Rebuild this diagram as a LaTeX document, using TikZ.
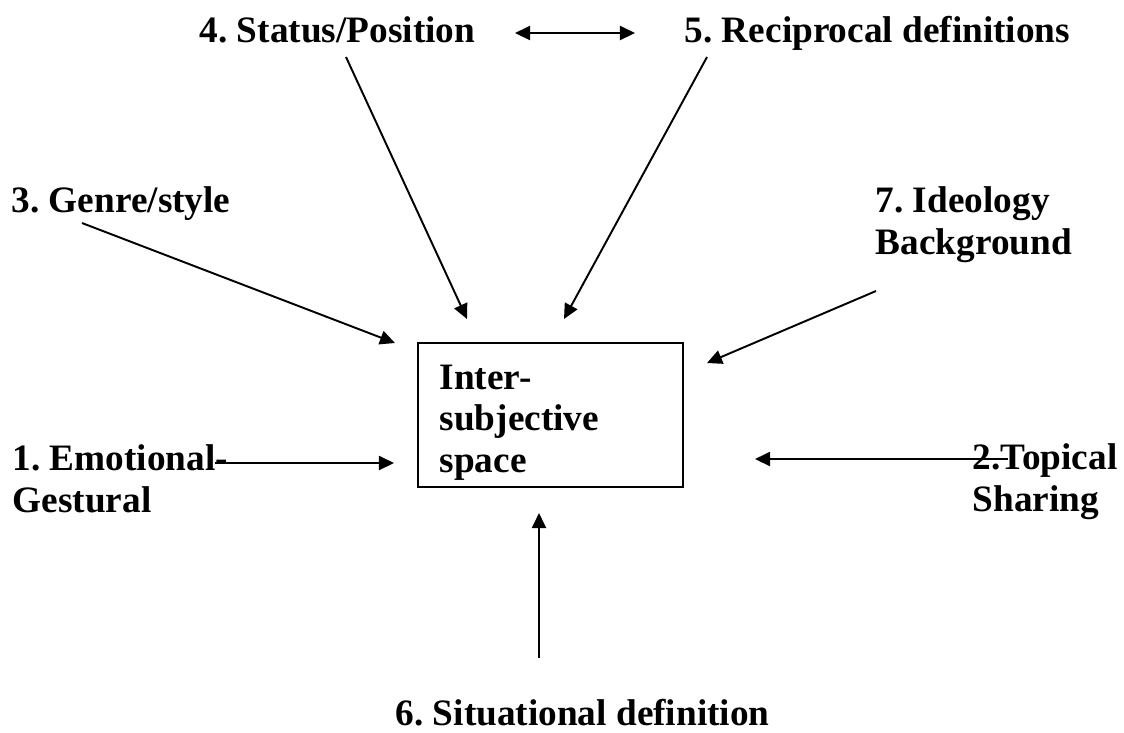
\documentclass[tikz,border=0pt]{standalone}
\usepackage{fontspec}
\setmainfont{Liberation Serif}
\frenchspacing
\usepackage{tikz}
\usetikzlibrary{arrows.meta}
\tikzset{
  lbl/.style={inner sep=0pt, anchor=base west, align=left,
              font=\fontsize{10.6}{11.8}\selectfont\bfseries},
  spacebox/.style={rectangle, draw=black, line width=0.75pt, inner sep=0pt,
                   minimum width=2.65cm, minimum height=1.44cm},
  arr/.style={-{Triangle[length=0.15cm, width=0.14cm]}, line width=0.55pt},
  darr/.style={{Triangle[length=0.15cm, width=0.14cm]}-{Triangle[length=0.15cm, width=0.14cm]}, line width=0.55pt},
}
\begin{document}
\begin{tikzpicture}[x=0.01cm, y=-0.01cm]
  \useasboundingbox (0,0) rectangle (1124,732);
  % labels round the box (multi-line ones sit on their last baseline)
  \node[lbl] (n4) at (199,42)  {4. Status/Position};
  \node[lbl] (n5) at (684,42)  {5. Reciprocal definitions};
  \node[lbl] (n3) at (11,212)  {3. Genre/style};
  \node[lbl] (n7) at (875,254) {7. Ideology\\Background};
  \node[lbl] (n1) at (12,512)  {1. Emotional-\\Gestural};
  \node[lbl] (n2) at (972,511) {2.Topical\\Sharing};
  \node[lbl] (n6) at (395,725) {6. Situational definition};
  % central box
  \node[spacebox] (isp) at (550.5,415) {};
  \node[lbl] (ispl) at (439,472) {Inter-\\subjective\\space};
  % arrow ends
  \coordinate (d4) at (515,33);   \coordinate (d5) at (635,33);
  \coordinate (t4) at (346,57);   \coordinate (h4) at (467,319);
  \coordinate (t5) at (707,57);   \coordinate (h5) at (564,319);
  \coordinate (t3) at (82,223);   \coordinate (h3) at (395,343);
  \coordinate (t7) at (876,291);  \coordinate (h7) at (707,363);
  \coordinate (t1) at (215,463);  \coordinate (h1) at (394,463);
  \coordinate (t2) at (1008,459); \coordinate (h2) at (755,459);
  \coordinate (t6) at (539,658);  \coordinate (h6) at (539,513);
  % connectors
  \draw[darr] (d4) -- (d5);
  \draw[arr] (t4) -- (h4);
  \draw[arr] (t5) -- (h5);
  \draw[arr] (t3) -- (h3);
  \draw[arr] (t7) -- (h7);
  \draw[arr] (t1) -- (h1);
  \draw[arr] (t2) -- (h2);
  \draw[arr] (t6) -- (h6);
\end{tikzpicture}
\end{document}
